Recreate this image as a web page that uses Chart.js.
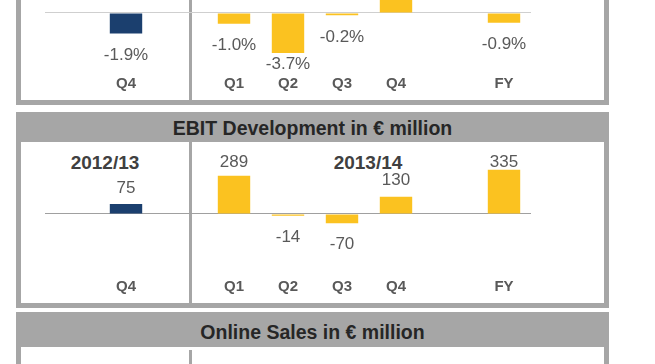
<!DOCTYPE html>
<html>
<head>
<meta charset="utf-8">
<script src="https://cdn.jsdelivr.net/npm/chart.js@4.4.1/dist/chart.umd.min.js"></script>
<style>
body{margin:0;width:655px;height:364px;overflow:hidden;background:#fff;position:relative;font-family:"Liberation Sans",Arial,sans-serif}
.frame{position:absolute;left:16px;width:583px;border:5px solid #a6a6a6;border-top:none;background:#fff}
.head{position:absolute;left:16px;width:593px;background:#a6a6a6;color:#262626;font-weight:700;font-size:19.5px;text-align:center}
.divider{position:absolute;left:189px;width:3px;background:#a6a6a6}
.year{position:absolute;font-weight:700;font-size:19px;color:#404040;transform:translateX(-50%)}
canvas{position:absolute;left:0}
</style>
</head>
<body>
<!-- top panel (cut off by the crop) -->
<div class="frame" style="top:-20px;height:120px"></div>
<div class="divider" style="top:0;height:100px"></div>
<canvas id="marginChart" width="655" height="180" style="top:-80px"></canvas>

<!-- EBIT panel -->
<div class="head" style="top:112px;height:30px;line-height:33px">EBIT Development in € million</div>
<div class="frame" style="top:142px;height:161px"></div>
<div class="divider" style="top:142px;height:161px"></div>
<div class="year" style="left:105px;top:152px">2012/13</div>
<div class="year" style="left:368px;top:152px">2013/14</div>
<canvas id="ebitChart" width="655" height="161" style="top:142px"></canvas>

<!-- Online sales panel (only header visible) -->
<div class="head" style="top:312px;height:35px;line-height:40px">Online Sales in € million</div>
<div class="frame" style="top:347px;height:40px"></div>
<div class="divider" style="top:350px;height:20px"></div>

<script>
// ── DATA ──
const categories=['','Q4','','Q1','Q2','Q3','Q4','','FY'];
const periods=[null,'2012/13',null,'2013/14','2013/14','2013/14','2013/14',null,'2013/14'];
const marginValues=[null,-1.9,null,-1.0,-3.7,-0.2,1.9,null,-0.9];
const ebitValues=[null,75,null,289,-14,-70,130,null,335];
const periodColors={'2012/13':'#1b3f6e','2013/14':'#fbc220'};

Chart.defaults.font.family='"Liberation Sans", Arial, sans-serif';
Chart.defaults.animation=false;

// value labels above / below bar ends (kept inside the plot area)
const valueLabels={
  id:'valueLabels',
  afterDatasetsDraw(chart,args,opts){
    const {ctx,chartArea}=chart;
    const meta=chart.getDatasetMeta(0);
    const data=chart.data.datasets[0].data;
    ctx.save();
    ctx.font='17px "Liberation Sans", Arial, sans-serif';
    ctx.fillStyle='#595959';
    ctx.textAlign='center';ctx.textBaseline='middle';
    meta.data.forEach((bar,i)=>{
      const v=data[i];
      if(v===null||v===undefined)return;
      const y=v>=0?Math.max(bar.y-opts.above,chartArea.top+8)
                  :Math.min(bar.y+opts.below,chartArea.bottom-6);
      ctx.fillText(opts.fmt(v),bar.x,y);
    });
    ctx.restore();
  }
};

function makeChart(id,values,yMin,yMax,pad,tickPad,zeroColor,fmt,below){
  return new Chart(document.getElementById(id),{
    type:'bar',
    data:{labels:categories,datasets:[{
      data:values,
      backgroundColor:periods.map(p=>p?periodColors[p]:'transparent'),
      categoryPercentage:1,barPercentage:0.6
    }]},
    options:{
      responsive:false,
      layout:{padding:pad},
      plugins:{legend:{display:false},tooltip:{enabled:false},valueLabels:{fmt,above:16,below}},
      scales:{
        x:{grid:{display:false,drawTicks:false},border:{display:false},
          ticks:{padding:tickPad,color:'#595959',font:{size:15,weight:'bold'},autoSkip:false,maxRotation:0}},
        y:{min:yMin,max:yMax,display:true,border:{display:false},
          ticks:{display:false},
          afterBuildTicks:s=>{s.ticks=[{value:0}]},
          grid:{color:zeroColor,lineWidth:1,drawTicks:false}}
      }
    },
    plugins:[valueLabels]
  });
}

makeChart('marginChart',marginValues,-5.28,8.61,{left:45,right:124,top:0,bottom:2},5,'#cfcfcf',
  v=>(v>0?'+':'')+v.toFixed(1)+'%',22);
makeChart('ebitChart',ebitValues,-438,453,{left:45,right:124,top:12,bottom:1},6,'#a0a0a0',
  v=>String(v),21);
</script>
</body>
</html>
